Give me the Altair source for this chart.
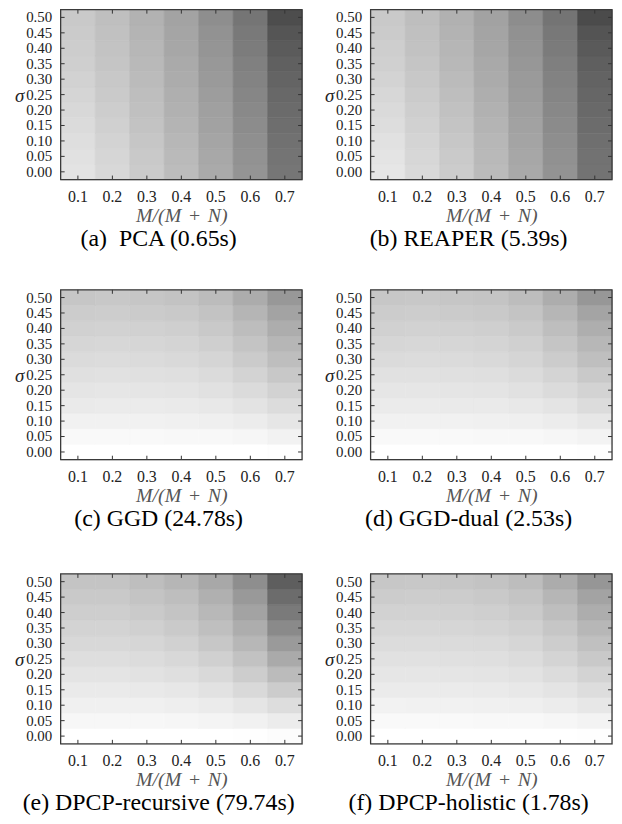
import altair as alt
import pandas as pd

# x categories: outlier ratio M/(M+N); y categories: noise level sigma
ratios = ["0.1", "0.2", "0.3", "0.4", "0.5", "0.6", "0.7"]
sigmas = ["0.00", "0.05", "0.10", "0.15", "0.20", "0.25", "0.30", "0.35", "0.40", "0.45", "0.50"]

captions = [
    "(a)\u00a0 PCA (0.65s)",
    "(b) REAPER (5.39s)",
    "(c) GGD (24.78s)",
    "(d) GGD-dual (2.53s)",
    "(e) DPCP-recursive (79.74s)",
    "(f) DPCP-holistic (1.78s)",
]

# error level (0 = white, 255 = black); rows: sigma 0.00 .. 0.50, cols: ratio 0.1 .. 0.7
pca = [
    [28, 39, 52, 67, 85, 107, 137],
    [30, 41, 54, 69, 87, 109, 139],
    [33, 44, 57, 72, 90, 112, 142],
    [36, 47, 60, 75, 93, 115, 145],
    [39, 50, 63, 78, 95, 118, 148],
    [42, 53, 65, 80, 98, 121, 151],
    [45, 55, 68, 83, 101, 124, 155],
    [48, 58, 70, 85, 103, 127, 159],
    [50, 60, 72, 88, 106, 131, 164],
    [52, 62, 75, 90, 109, 134, 170],
    [54, 64, 77, 92, 113, 138, 178],
]
reaper = [
    [25, 38, 51, 68, 86, 108, 140],
    [27, 40, 53, 70, 88, 110, 141],
    [30, 43, 56, 72, 91, 113, 144],
    [34, 46, 59, 75, 93, 116, 147],
    [37, 49, 62, 78, 96, 119, 150],
    [40, 52, 65, 81, 99, 122, 153],
    [44, 55, 68, 84, 101, 125, 156],
    [47, 58, 71, 86, 104, 128, 160],
    [49, 61, 73, 89, 107, 132, 165],
    [52, 63, 76, 91, 110, 135, 171],
    [54, 65, 78, 93, 114, 139, 180],
]
ggd = [
    [0, 0, 0, 0, 0, 0, 1],
    [6, 6, 6, 7, 7, 9, 13],
    [14, 14, 14, 15, 16, 19, 25],
    [21, 20, 20, 21, 23, 28, 35],
    [26, 25, 26, 27, 30, 36, 45],
    [31, 30, 31, 32, 36, 44, 55],
    [36, 35, 36, 38, 42, 52, 65],
    [41, 40, 41, 43, 48, 59, 73],
    [46, 45, 46, 48, 54, 66, 82],
    [51, 50, 52, 54, 60, 74, 92],
    [57, 55, 57, 60, 67, 83, 103],
]
ggd_dual = [
    [0, 0, 0, 0, 0, 0, 1],
    [6, 6, 6, 7, 7, 9, 12],
    [14, 14, 14, 15, 16, 19, 24],
    [20, 20, 21, 21, 23, 27, 35],
    [25, 25, 26, 27, 30, 36, 44],
    [30, 30, 31, 32, 36, 43, 54],
    [36, 35, 36, 38, 42, 51, 64],
    [41, 40, 41, 43, 47, 58, 72],
    [46, 45, 46, 48, 53, 65, 81],
    [51, 50, 52, 54, 59, 73, 91],
    [56, 55, 57, 59, 66, 82, 104],
]
dpcp_rec = [
    [0, 0, 0, 0, 0, 1, 3],
    [8, 8, 8, 9, 11, 14, 19],
    [15, 15, 15, 17, 20, 26, 34],
    [21, 21, 22, 24, 29, 38, 51],
    [27, 27, 29, 32, 38, 50, 68],
    [33, 33, 35, 39, 47, 61, 85],
    [39, 39, 41, 46, 56, 72, 101],
    [44, 44, 47, 53, 64, 82, 117],
    [49, 49, 53, 59, 71, 92, 133],
    [54, 54, 59, 65, 79, 102, 147],
    [59, 59, 65, 73, 87, 113, 161],
]
dpcp_hol = [
    [0, 0, 0, 0, 0, 0, 1],
    [6, 6, 6, 7, 7, 9, 12],
    [13, 14, 14, 15, 16, 19, 24],
    [20, 20, 20, 21, 23, 27, 34],
    [25, 25, 26, 27, 29, 35, 44],
    [30, 30, 31, 32, 35, 43, 54],
    [35, 35, 36, 37, 41, 50, 63],
    [40, 40, 41, 43, 47, 57, 72],
    [45, 45, 46, 48, 53, 65, 82],
    [51, 50, 51, 54, 59, 73, 92],
    [56, 55, 57, 60, 66, 83, 105],
]

grids = [pca, reaper, ggd, ggd_dual, dpcp_rec, dpcp_hol]

W, H = 243, 171
SERIF = "Liberation Serif, Times New Roman, Times, serif"
TICK = "#333333"
FRAME = "#3a3a3a"

xsc = alt.Scale(domain=ratios, paddingInner=0, paddingOuter=0)
ysc = alt.Scale(domain=sigmas[::-1], paddingInner=0, paddingOuter=0)
csc = alt.Scale(domain=[0, 255], range=["#ffffff", "#000000"], interpolate="rgb")

xticks_df = pd.DataFrame({"ratio": ratios})
yticks_df = pd.DataFrame({"sigma": sigmas})
frame_df = pd.DataFrame({"frame": [1]})


def panel(grid, caption):
    rows = []
    for i, s in enumerate(sigmas):
        for j, r in enumerate(ratios):
            rows.append({"ratio": r, "sigma": s, "err": grid[i][j]})
    df = pd.DataFrame(rows)

    heat = alt.Chart(df).mark_rect(strokeWidth=0.6).encode(
        x=alt.X(
            "ratio:O",
            scale=xsc,
            axis=alt.Axis(
                orient="bottom", labelAngle=0, labelFont=SERIF, labelFontSize=16,
                labelColor="#222222", labelPadding=9, ticks=False, domain=False,
                labelOverlap=False,
                title="M/(M\u2004+\u2004N)", titleFont=SERIF, titleFontStyle="italic",
                titleFontWeight="normal", titleFontSize=20, titleColor="#555555",
                titlePadding=1,
            ),
        ),
        y=alt.Y(
            "sigma:O",
            scale=ysc,
            axis=alt.Axis(
                labelFont=SERIF, labelFontSize=15, labelColor="#222222",
                labelPadding=9, ticks=False, domain=False, labelOverlap=False,
                title="σ", titleFont=SERIF, titleFontStyle="italic",
                titleFontWeight="normal", titleFontSize=19, titleColor="#222222",
                titleAngle=0, titleAlign="right", titleBaseline="middle",
                titleX=-37, titleY=H / 2 + 1,
            ),
        ),
        color=alt.Color("err:Q", scale=csc, legend=None),
        stroke=alt.Stroke("err:Q", scale=csc, legend=None),
    )

    xt = alt.Chart(xticks_df)
    yt = alt.Chart(yticks_df)
    top_t = xt.mark_rule(color=TICK, strokeWidth=1).encode(
        x=alt.X("ratio:O", scale=xsc), y=alt.value(0), y2=alt.value(4))
    bot_t = xt.mark_rule(color=TICK, strokeWidth=1).encode(
        x=alt.X("ratio:O", scale=xsc), y=alt.value(H), y2=alt.value(H - 4))
    left_t = yt.mark_rule(color=TICK, strokeWidth=1).encode(
        y=alt.Y("sigma:O", scale=ysc), x=alt.value(0), x2=alt.value(4))
    right_t = yt.mark_rule(color=TICK, strokeWidth=1).encode(
        y=alt.Y("sigma:O", scale=ysc), x=alt.value(W), x2=alt.value(W - 4))
    frame = alt.Chart(frame_df).mark_rect(
        fill=None, stroke=FRAME, strokeWidth=1.3
    ).encode(x=alt.value(0), x2=alt.value(W), y=alt.value(0), y2=alt.value(H))

    return alt.layer(heat, top_t, bot_t, left_t, right_t, frame).properties(
        width=W,
        height=H,
        title=alt.TitleParams(
            caption, orient="bottom", font=SERIF, fontSize=24, fontWeight="normal",
            color="#000000", anchor="middle", frame="bounds", offset=2,
        ),
    )


panels = [panel(g, c) for g, c in zip(grids, captions)]
rows = [alt.hconcat(panels[k], panels[k + 1], spacing=20) for k in (0, 2, 4)]

lower = alt.vconcat(rows[1], rows[2], spacing=40)
chart = alt.vconcat(rows[0], lower, spacing=36).properties(
    padding={"left": 6, "top": -3, "right": 0, "bottom": 0}
).configure_view(strokeWidth=0).configure(font=SERIF)

chart.save("out.html", embed_options={"renderer": "svg", "actions": False})
